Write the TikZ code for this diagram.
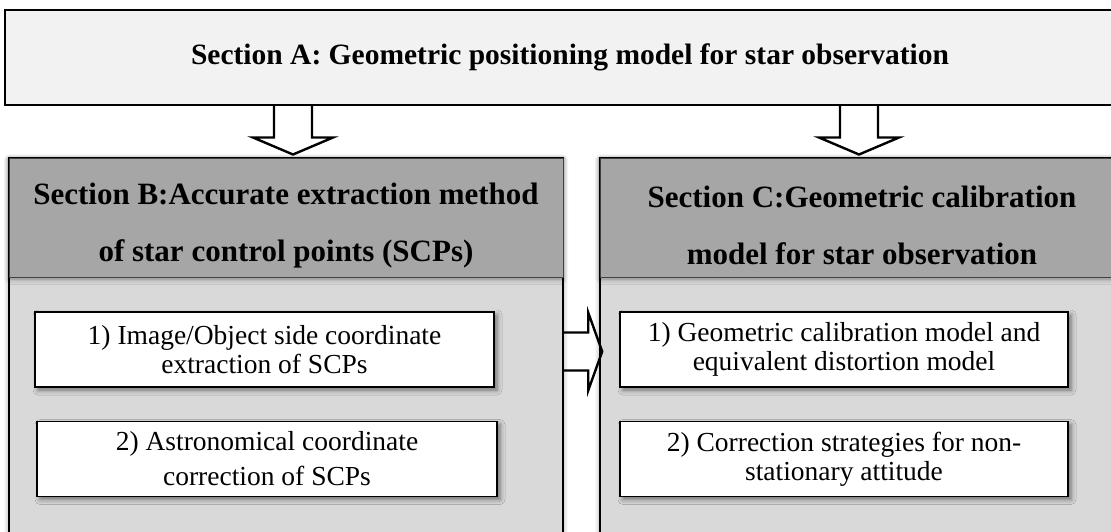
\documentclass[tikz,border=0pt]{standalone}
\usepackage{fontspec}
\setmainfont{Liberation Serif}
\usepackage{xcolor}
\usetikzlibrary{positioning,shadows.blur}
\definecolor{topgray}{HTML}{F2F2F2}
\definecolor{headgray}{HTML}{A6A6A6}
\definecolor{bodygray}{HTML}{D9D9D9}
\newcommand{\hstrut}{\rule{0pt}{38pt}}
\tikzset{
  secbox/.style={draw=black, line width=1.8pt, fill=topgray, minimum width=1130pt, minimum height=95pt, font=\fontsize{29.5pt}{34pt}\selectfont\bfseries},
  panel/.style={draw=black, line width=1.6pt, fill=bodygray, minimum height=387pt, blur shadow={shadow xshift=0pt, shadow yshift=-1pt, shadow blur radius=5pt, shadow opacity=45}},
  headbox/.style={draw=black!75, line width=1pt, fill=headgray, align=center, minimum height=119pt, font=\fontsize{31pt}{57pt}\selectfont\bfseries, blur shadow={shadow xshift=0pt, shadow yshift=-2pt, shadow blur radius=5pt, shadow opacity=40}},
  itembox/.style={draw=black, line width=1.2pt, fill=white, align=center, minimum height=75pt, font=\fontsize{27.5pt}{29pt}\selectfont, blur shadow={shadow xshift=3pt, shadow yshift=-3pt, shadow blur radius=5pt, shadow opacity=50}},
  blockarr/.style={draw=black, line width=2.4pt, line join=miter}
}

\begin{document}
\begin{tikzpicture}[x=1pt, y=-1pt]
\useasboundingbox (0,0) rectangle (1111,531);
\clip (0,0) rectangle (1111,531);
% panels
\node[panel, minimum width=554pt] (panelB) at (286,351.5) {};
\node[panel, minimum width=524pt] (panelC) at (862,351.5) {};
\node[headbox, minimum width=554pt] (headB) at (286,217.5) {\hstrut Section B:Accurate extraction method\\of star control points (SCPs)};
\node[headbox, minimum width=524pt] (headC) at (862,217.5) {\hstrut Section C:Geometric calibration\\model for star observation};
% items
\node[itembox, minimum width=459pt] (b1) at (264.5,349.5) {1) Image/Object side coordinate\\extraction of SCPs};
\node[itembox, minimum width=460pt, font=\fontsize{27.5pt}{35pt}\selectfont] (b2) at (267,459) {2) Astronomical coordinate\\correction of SCPs};
\node[itembox, minimum width=448pt] (c1) at (844,349.5) {1) Geometric calibration model and\\equivalent distortion model};
\node[itembox, minimum width=448pt] (c2) at (844,459) {2) Correction strategies for non-\\stationary attitude};
% top section
\node[secbox] (secA) at (570,57.5) {Section A: Geometric positioning model for star observation};
% block arrows
\coordinate (tB) at ([xshift=7pt,yshift=3pt]headB.north);
\coordinate (sB) at (tB |- secA.south);
\draw[blockarr] ([xshift=-19pt]sB) -- ([xshift=-19pt,yshift=17pt]tB) -- ([xshift=-40pt,yshift=17pt]tB) -- (tB)
  -- ([xshift=40pt,yshift=17pt]tB) -- ([xshift=19pt,yshift=17pt]tB) -- ([xshift=19pt]sB);
\coordinate (tC) at ([xshift=-3pt,yshift=3pt]headC.north);
\coordinate (sC) at (tC |- secA.south);
\draw[blockarr] ([xshift=-19pt]sC) -- ([xshift=-19pt,yshift=17pt]tC) -- ([xshift=-40pt,yshift=17pt]tC) -- (tC)
  -- ([xshift=40pt,yshift=17pt]tC) -- ([xshift=19pt,yshift=17pt]tC) -- ([xshift=19pt]sC);
\coordinate (tR) at ([xshift=3pt]panelC.west);
\draw[blockarr] ([yshift=19pt]panelB.east) -- ([xshift=-14pt,yshift=19pt]tR) -- ([xshift=-14pt,yshift=39pt]tR) -- (tR)
  -- ([xshift=-14pt,yshift=-39pt]tR) -- ([xshift=-14pt,yshift=-19pt]tR) -- ([yshift=-19pt]panelB.east);
\end{tikzpicture}
\end{document}
